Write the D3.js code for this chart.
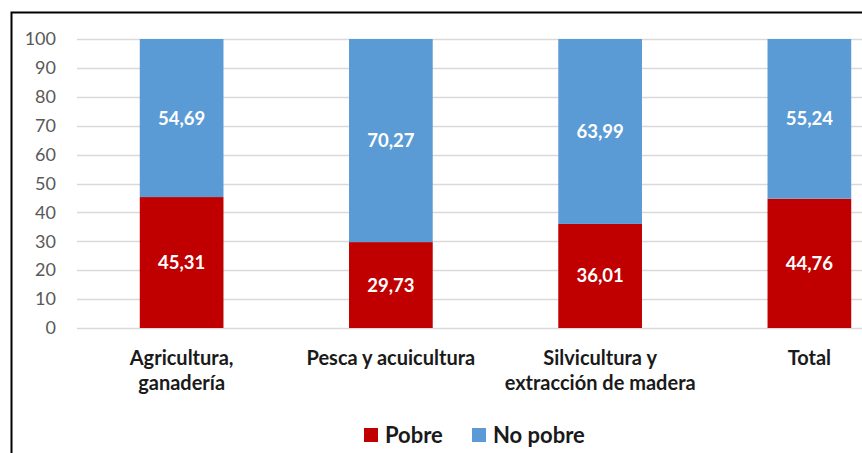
<!DOCTYPE html>
<html>
<head>
<meta charset="utf-8">
<script src="https://cdn.jsdelivr.net/npm/d3@7"></script>
<style>
  html, body { margin: 0; padding: 0; background: #fff; }
  svg { display: block; }
</style>
</head>
<body>
<svg id="chart" width="862" height="453"></svg>
<script>
// Sector categories (second line of each label after "|")
const categories = ["Agricultura,|ganadería", "Pesca y acuicultura", "Silvicultura y|extracción de madera", "Total"];
// Share of poor / non-poor workers (%)
const pobre = [45.31, 29.73, 36.01, 44.76];
const noPobre = [54.69, 70.27, 63.99, 55.24];
const seriesNames = ["Pobre", "No pobre"];
const seriesColors = ["#C00000", "#5B9BD5"];
const yTicks = [0, 10, 20, 30, 40, 50, 60, 70, 80, 90, 100];

const svg = d3.select("#chart");
const font = "Lato, 'Open Sans', sans-serif";

// Outer frame
svg.append("path")
  .attr("d", "M11.5,453 L11.5,12.5 L862,12.5")
  .attr("fill", "none").attr("stroke", "#000").attr("stroke-width", 2);

const y = d3.scaleLinear().domain([0, 100]).range([328, 39]);
const x = d3.scaleBand().domain(categories).range([77, 914]).paddingInner(0.6).paddingOuter(0.3);

// Gridlines
svg.append("g").selectAll("line").data(yTicks).join("line")
  .attr("x1", 77).attr("x2", 862)
  .attr("y1", d => Math.round(y(d)) + 0.5).attr("y2", d => Math.round(y(d)) + 0.5)
  .attr("stroke", "#D9D9D9").attr("stroke-width", 1.5);

// Y axis labels
const yAxis = d3.axisLeft(y).tickValues(yTicks).tickSize(0).tickPadding(0);
svg.append("g").attr("transform", "translate(56,0)").call(yAxis)
  .call(g => g.select(".domain").remove())
  .call(g => g.selectAll("text").attr("fill", "#595959").attr("font-size", 18).attr("font-family", font));

// Stacked data
const rows = categories.map((c, i) => ({ cat: c, Pobre: pobre[i], "No pobre": noPobre[i] }));
const stack = d3.stack().keys(seriesNames)(rows);

const layers = svg.append("g").selectAll("g").data(stack).join("g")
  .attr("fill", (d, i) => seriesColors[i]);

layers.selectAll("rect").data(d => d).join("rect")
  .attr("x", d => x(d.data.cat))
  .attr("width", x.bandwidth())
  .attr("y", d => y(d[1]))
  .attr("height", d => y(d[0]) - y(d[1]));

// Value labels
layers.selectAll("text").data(d => d.map(v => ({ v, key: d.key }))).join("text")
  .attr("x", d => x(d.v.data.cat) + x.bandwidth() / 2)
  .attr("y", d => y((d.v[0] + d.v[1]) / 2))
  .attr("dy", "0.35em")
  .attr("text-anchor", "middle")
  .attr("fill", "#fff")
  .attr("font-weight", "bold")
  .attr("font-size", 18.5)
  .attr("font-family", font)
  .text(d => d3.format(".2f")(d.v.data[d.key]).replace(".", ","));

// Category labels
const catG = svg.append("g").selectAll("text").data(categories).join("text")
  .attr("x", d => x(d) + x.bandwidth() / 2)
  .attr("y", 365)
  .attr("text-anchor", "middle")
  .attr("fill", "#1a1a1a")
  .attr("font-weight", "bold")
  .attr("font-size", 20)
  .attr("font-family", font);
catG.selectAll("tspan").data(d => d.split("|")).join("tspan")
  .attr("x", function() { return d3.select(this.parentNode).attr("x"); })
  .attr("dy", (d, i) => i === 0 ? 0 : 25)
  .text(d => d);

// Legend
const legend = svg.append("g").attr("font-family", font);
const legendX = [364, 472];
seriesNames.forEach((name, i) => {
  legend.append("rect").attr("x", legendX[i]).attr("y", 428).attr("width", 14).attr("height", 14)
    .attr("fill", seriesColors[i]);
  legend.append("text").attr("x", legendX[i] + 21).attr("y", 443)
    .attr("fill", "#1a1a1a").attr("font-size", 22).attr("font-weight", "bold")
    .text(name);
});
</script>
</body>
</html>
